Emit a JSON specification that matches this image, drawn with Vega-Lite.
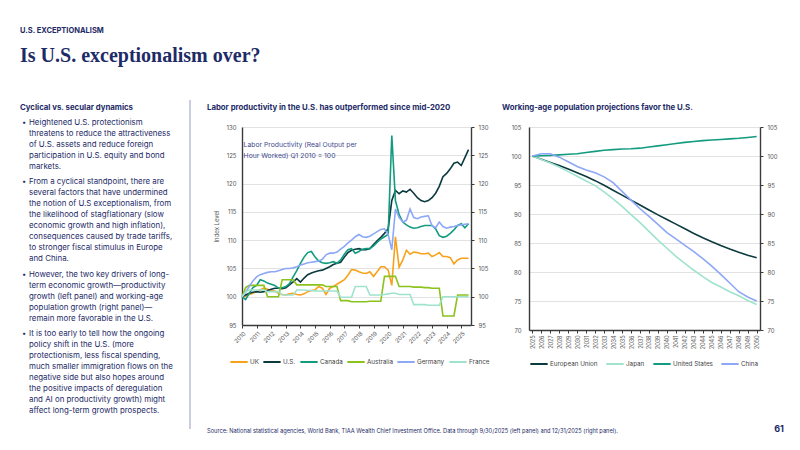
{
  "$schema": "https://vega.github.io/schema/vega-lite/v6.json",
  "background": "white",
  "padding": {"left": 20, "top": 26, "right": 8, "bottom": 6},
  "title": {
    "text": "U.S. EXCEPTIONALISM",
    "subtitle": "Is U.S. exceptionalism over?",
    "anchor": "start",
    "font": "Inter",
    "fontSize": 7.5,
    "fontWeight": "bold",
    "color": "#1e2b66",
    "subtitleFont": "Liberation Serif",
    "subtitleFontSize": 20,
    "subtitleFontWeight": "bold",
    "subtitleColor": "#1e2b66",
    "subtitlePadding": 12,
    "offset": 33
  },
  "datasets": {
    "productivity": [
      {"q": "2010-01-01", "UK": 100, "US": 100, "Canada": 100, "Australia": 100, "Germany": 100, "France": 100},
      {"q": "2010-04-01", "UK": 100.1, "US": 100.3, "Canada": 99.5, "Australia": 101.6, "Germany": 100.8, "France": 100.8},
      {"q": "2010-07-01", "UK": 100.4, "US": 100.6, "Canada": 100.6, "Australia": 102, "Germany": 101.8, "France": 101.2},
      {"q": "2010-10-01", "UK": 100.6, "US": 100.8, "Canada": 101.6, "Australia": 102, "Germany": 102.8, "France": 101.2},
      {"q": "2011-01-01", "UK": 100.9, "US": 100.9, "Canada": 102, "Australia": 102, "Germany": 103.5, "France": 101.2},
      {"q": "2011-04-01", "UK": 101.2, "US": 100.8, "Canada": 103, "Australia": 102, "Germany": 103.9, "France": 101.2},
      {"q": "2011-07-01", "UK": 101.5, "US": 100.9, "Canada": 102.8, "Australia": 102, "Germany": 104.1, "France": 101.2},
      {"q": "2011-10-01", "UK": 101.3, "US": 101.1, "Canada": 102.4, "Australia": 100, "Germany": 104.3, "France": 100.9},
      {"q": "2012-01-01", "UK": 101.1, "US": 101.3, "Canada": 102.2, "Australia": 100, "Germany": 104.4, "France": 100.9},
      {"q": "2012-04-01", "UK": 101, "US": 101.5, "Canada": 102, "Australia": 100, "Germany": 104.4, "France": 100.9},
      {"q": "2012-07-01", "UK": 100.6, "US": 101.5, "Canada": 101.5, "Australia": 100, "Germany": 104.6, "France": 100.9},
      {"q": "2012-10-01", "UK": 100.4, "US": 101.4, "Canada": 101.6, "Australia": 103, "Germany": 104.8, "France": 100.3},
      {"q": "2013-01-01", "UK": 100.3, "US": 101.6, "Canada": 101.8, "Australia": 103, "Germany": 105, "France": 100.3},
      {"q": "2013-04-01", "UK": 100.5, "US": 102.1, "Canada": 102.3, "Australia": 103, "Germany": 105, "France": 100.3},
      {"q": "2013-07-01", "UK": 100.6, "US": 102.6, "Canada": 103.5, "Australia": 103, "Germany": 105.1, "France": 100.3},
      {"q": "2013-10-01", "UK": 100.4, "US": 103.2, "Canada": 104.6, "Australia": 102.1, "Germany": 105.3, "France": 101.2},
      {"q": "2014-01-01", "UK": 100.3, "US": 102.6, "Canada": 105.9, "Australia": 102.1, "Germany": 105.6, "France": 101.2},
      {"q": "2014-04-01", "UK": 100.5, "US": 103.3, "Canada": 107, "Australia": 102.1, "Germany": 105.8, "France": 101.2},
      {"q": "2014-07-01", "UK": 100.9, "US": 103.9, "Canada": 107.8, "Australia": 102.1, "Germany": 106, "France": 101.1},
      {"q": "2014-10-01", "UK": 101.1, "US": 104.2, "Canada": 108, "Australia": 102.1, "Germany": 106.1, "France": 101.1},
      {"q": "2015-01-01", "UK": 101.2, "US": 104.4, "Canada": 107, "Australia": 102.1, "Germany": 106.2, "France": 101},
      {"q": "2015-04-01", "UK": 101.8, "US": 104.6, "Canada": 106.3, "Australia": 102.1, "Germany": 106.3, "France": 101},
      {"q": "2015-07-01", "UK": 101.5, "US": 104.7, "Canada": 106, "Australia": 102.1, "Germany": 106.6, "France": 101},
      {"q": "2015-10-01", "UK": 100.4, "US": 105, "Canada": 105.9, "Australia": 101.8, "Germany": 107.4, "France": 101},
      {"q": "2016-01-01", "UK": 101.5, "US": 105.3, "Canada": 106, "Australia": 101.8, "Germany": 107.7, "France": 101},
      {"q": "2016-04-01", "UK": 101.8, "US": 105.7, "Canada": 106.2, "Australia": 101.8, "Germany": 107.7, "France": 101},
      {"q": "2016-07-01", "UK": 102.2, "US": 105.9, "Canada": 105.9, "Australia": 101.8, "Germany": 107.9, "France": 101},
      {"q": "2016-10-01", "UK": 102.6, "US": 106.1, "Canada": 106.5, "Australia": 99.3, "Germany": 108.4, "France": 99.9},
      {"q": "2017-01-01", "UK": 103, "US": 107, "Canada": 107.5, "Australia": 99.3, "Germany": 108.9, "France": 99.9},
      {"q": "2017-04-01", "UK": 103.8, "US": 107.8, "Canada": 108.3, "Australia": 99.3, "Germany": 109.5, "France": 99.9},
      {"q": "2017-07-01", "UK": 104.8, "US": 108.2, "Canada": 108.5, "Australia": 99.1, "Germany": 110, "France": 99.9},
      {"q": "2017-10-01", "UK": 104.7, "US": 108.4, "Canada": 107.7, "Australia": 99.1, "Germany": 110.6, "France": 101.8},
      {"q": "2018-01-01", "UK": 104.4, "US": 108.5, "Canada": 108, "Australia": 99.1, "Germany": 111, "France": 101.8},
      {"q": "2018-04-01", "UK": 104.2, "US": 108.3, "Canada": 108.4, "Australia": 99.1, "Germany": 110.6, "France": 101.8},
      {"q": "2018-07-01", "UK": 104.1, "US": 108.3, "Canada": 108.5, "Australia": 99.1, "Germany": 110.5, "France": 101.8},
      {"q": "2018-10-01", "UK": 104.4, "US": 108.5, "Canada": 108.5, "Australia": 99.2, "Germany": 110.7, "France": 100.3},
      {"q": "2019-01-01", "UK": 103.6, "US": 109.2, "Canada": 109, "Australia": 99.2, "Germany": 111.1, "France": 100.3},
      {"q": "2019-04-01", "UK": 104.4, "US": 109.9, "Canada": 109.6, "Australia": 99.2, "Germany": 111.5, "France": 100.3},
      {"q": "2019-07-01", "UK": 105.3, "US": 110.5, "Canada": 110.2, "Australia": 99.2, "Germany": 111.9, "France": 100.3},
      {"q": "2019-10-01", "UK": 105.3, "US": 111.2, "Canada": 110.6, "Australia": 103.6, "Germany": 112, "France": 100.4},
      {"q": "2020-01-01", "UK": 104.7, "US": 112, "Canada": 111, "Australia": 103.6, "Germany": 111, "France": 100.5},
      {"q": "2020-04-01", "UK": 102, "US": 117, "Canada": 128.5, "Australia": 103.6, "Germany": 108.3, "France": 100.6},
      {"q": "2020-07-01", "UK": 110.6, "US": 118.8, "Canada": 117, "Australia": 103.6, "Germany": 115.5, "France": 100.6},
      {"q": "2020-10-01", "UK": 105.2, "US": 118.2, "Canada": 114.5, "Australia": 101.8, "Germany": 114, "France": 100.4},
      {"q": "2021-01-01", "UK": 106.5, "US": 118.7, "Canada": 113.2, "Australia": 101.8, "Germany": 113.2, "France": 100.4},
      {"q": "2021-04-01", "UK": 108.2, "US": 118.5, "Canada": 112.7, "Australia": 101.8, "Germany": 113.5, "France": 100.4},
      {"q": "2021-07-01", "UK": 107.5, "US": 119, "Canada": 112.3, "Australia": 101.8, "Germany": 115.5, "France": 100.4},
      {"q": "2021-10-01", "UK": 107.9, "US": 118.3, "Canada": 112.1, "Australia": 101.7, "Germany": 114, "France": 98.6},
      {"q": "2022-01-01", "UK": 107.8, "US": 117.5, "Canada": 112.2, "Australia": 101.7, "Germany": 113.8, "France": 98.6},
      {"q": "2022-04-01", "UK": 107.6, "US": 117, "Canada": 112.4, "Australia": 101.7, "Germany": 114.1, "France": 98.6},
      {"q": "2022-07-01", "UK": 107.6, "US": 116.8, "Canada": 112.6, "Australia": 101.6, "Germany": 114.2, "France": 98.6},
      {"q": "2022-10-01", "UK": 107.7, "US": 117, "Canada": 112.6, "Australia": 101.6, "Germany": 114.3, "France": 98.5},
      {"q": "2023-01-01", "UK": 107.1, "US": 117.5, "Canada": 112.6, "Australia": 101.5, "Germany": 112.5, "France": 98.5},
      {"q": "2023-04-01", "UK": 107.4, "US": 118.3, "Canada": 112, "Australia": 101.5, "Germany": 112.2, "France": 98.5},
      {"q": "2023-07-01", "UK": 107.8, "US": 119.5, "Canada": 110.8, "Australia": 101.5, "Germany": 113.2, "France": 98.5},
      {"q": "2023-10-01", "UK": 107.1, "US": 121.2, "Canada": 110.5, "Australia": 96.6, "Germany": 112.4, "France": 100},
      {"q": "2024-01-01", "UK": 107.1, "US": 121.8, "Canada": 110.7, "Australia": 96.6, "Germany": 112.1, "France": 100},
      {"q": "2024-04-01", "UK": 106.9, "US": 122.6, "Canada": 111.2, "Australia": 96.6, "Germany": 112.3, "France": 100},
      {"q": "2024-07-01", "UK": 105.8, "US": 123.6, "Canada": 111.8, "Australia": 96.6, "Germany": 112.4, "France": 100},
      {"q": "2024-10-01", "UK": 106.5, "US": 123.8, "Canada": 112.6, "Australia": 100.3, "Germany": 112.6, "France": 100},
      {"q": "2025-01-01", "UK": 106.8, "US": 123.2, "Canada": 112.9, "Australia": 100.3, "Germany": 112.7, "France": 100},
      {"q": "2025-04-01", "UK": 106.8, "US": 124.6, "Canada": 112.2, "Australia": 100.3, "Germany": 112.8, "France": 100},
      {"q": "2025-07-01", "UK": 106.8, "US": 126, "Canada": 112.9, "Australia": 100.3, "Germany": 112.9, "France": 100}
    ],
    "population": [
      {"year": 2025, "EU": 100, "Japan": 100, "US": 100, "China": 100},
      {"year": 2026, "EU": 99.45, "Japan": 99.4, "US": 100.05, "China": 100.4},
      {"year": 2027, "EU": 98.9, "Japan": 98.8, "US": 100.1, "China": 100.4},
      {"year": 2028, "EU": 98.35, "Japan": 98.1, "US": 100.2, "China": 99.8},
      {"year": 2029, "EU": 97.75, "Japan": 97.3, "US": 100.3, "China": 99},
      {"year": 2030, "EU": 97.1, "Japan": 96.5, "US": 100.4, "China": 98.2},
      {"year": 2031, "EU": 96.45, "Japan": 95.7, "US": 100.6, "China": 97.6},
      {"year": 2032, "EU": 95.75, "Japan": 94.9, "US": 100.8, "China": 97.1},
      {"year": 2033, "EU": 94.95, "Japan": 93.8, "US": 101, "China": 96.4},
      {"year": 2034, "EU": 94.1, "Japan": 92.6, "US": 101.1, "China": 95.4},
      {"year": 2035, "EU": 93.25, "Japan": 91.3, "US": 101.2, "China": 93.9},
      {"year": 2036, "EU": 92.4, "Japan": 89.9, "US": 101.25, "China": 92.4},
      {"year": 2037, "EU": 91.55, "Japan": 88.5, "US": 101.35, "China": 90.9},
      {"year": 2038, "EU": 90.7, "Japan": 87, "US": 101.55, "China": 89.6},
      {"year": 2039, "EU": 89.85, "Japan": 85.5, "US": 101.75, "China": 88.2},
      {"year": 2040, "EU": 89.05, "Japan": 84.1, "US": 101.95, "China": 86.8},
      {"year": 2041, "EU": 88.25, "Japan": 82.7, "US": 102.15, "China": 85.7},
      {"year": 2042, "EU": 87.45, "Japan": 81.5, "US": 102.35, "China": 84.6},
      {"year": 2043, "EU": 86.65, "Japan": 80.3, "US": 102.5, "China": 83.5},
      {"year": 2044, "EU": 85.9, "Japan": 79.2, "US": 102.65, "China": 82.3},
      {"year": 2045, "EU": 85.2, "Japan": 78.2, "US": 102.75, "China": 81},
      {"year": 2046, "EU": 84.55, "Japan": 77.4, "US": 102.85, "China": 79.6},
      {"year": 2047, "EU": 83.95, "Japan": 76.6, "US": 102.95, "China": 78.1},
      {"year": 2048, "EU": 83.4, "Japan": 75.9, "US": 103.05, "China": 76.6},
      {"year": 2049, "EU": 82.9, "Japan": 75.1, "US": 103.2, "China": 75.7},
      {"year": 2050, "EU": 82.45, "Japan": 74.4, "US": 103.35, "China": 75}
    ],
    "notes": [
      {"p": 0, "n": 0, "t": "Cyclical vs. secular dynamics"},
      {"p": 1, "n": 1, "first": true, "t": "Heightened U.S. protectionism"},
      {"p": 1, "n": 2, "t": "threatens to reduce the attractiveness"},
      {"p": 1, "n": 3, "t": "of U.S. assets and reduce foreign"},
      {"p": 1, "n": 4, "t": "participation in U.S. equity and bond"},
      {"p": 1, "n": 5, "t": "markets."},
      {"p": 2, "n": 6, "first": true, "t": "From a cyclical standpoint, there are"},
      {"p": 2, "n": 7, "t": "several factors that have undermined"},
      {"p": 2, "n": 8, "t": "the notion of U.S exceptionalism, from"},
      {"p": 2, "n": 9, "t": "the likelihood of stagflationary (slow"},
      {"p": 2, "n": 10, "t": "economic growth and high inflation),"},
      {"p": 2, "n": 11, "t": "consequences caused by trade tariffs,"},
      {"p": 2, "n": 12, "t": "to stronger fiscal stimulus in Europe"},
      {"p": 2, "n": 13, "t": "and China."},
      {"p": 3, "n": 14, "first": true, "t": "However, the two key drivers of long-"},
      {"p": 3, "n": 15, "t": "term economic growth—productivity"},
      {"p": 3, "n": 16, "t": "growth (left panel) and working-age"},
      {"p": 3, "n": 17, "t": "population growth (right panel)—"},
      {"p": 3, "n": 18, "t": "remain more favorable in the U.S."},
      {"p": 4, "n": 19, "first": true, "t": "It is too early to tell how the ongoing"},
      {"p": 4, "n": 20, "t": "policy shift in the U.S. (more"},
      {"p": 4, "n": 21, "t": "protectionism, less fiscal spending,"},
      {"p": 4, "n": 22, "t": "much smaller immigration flows on the"},
      {"p": 4, "n": 23, "t": "negative side but also hopes around"},
      {"p": 4, "n": 24, "t": "the positive impacts of deregulation"},
      {"p": 4, "n": 25, "t": "and AI on productivity growth) might"},
      {"p": 4, "n": 26, "t": "affect long-term growth prospects."}
    ]
  },
  "vconcat": [
    {
      "title": {"text": "61", "orient": "bottom", "anchor": "end", "fontSize": 9, "fontWeight": "bold", "offset": -9, "dx": 7},
      "spacing": 15,
      "hconcat": [
        {
          "width": 170,
          "height": 302,
          "layer": [
            {
              "data": {"values": [{}]},
              "mark": {"type": "rule", "color": "#b9bdd4", "strokeWidth": 1.5},
              "encoding": {
                "x": {"datum": 170, "type": "quantitative", "scale": {"domain": [0, 170], "nice": false, "zero": false}, "axis": null},
                "y": {"datum": 0, "type": "quantitative", "scale": {"domain": [0, 329], "range": [-27, 302], "nice": false, "zero": false}, "axis": null},
                "y2": {"datum": 329}
              }
            },
            {
              "data": {"name": "notes"},
              "transform": [{"filter": "datum.p == 0"}],
              "mark": {"type": "text", "align": "left", "baseline": "middle", "fontSize": 7.8, "fontWeight": "bold", "color": "#1e2b66", "dy": -10},
              "encoding": {
                "x": {"datum": 0, "type": "quantitative"},
                "y": {"field": "n", "type": "ordinal", "scale": {"domain": [0, 1, 2, 3, 4, 5, 6, 7, 8, 9, 10, 11, 12, 13, 14, 15, 16, 17, 18, 19, 20, 21, 22, 23, 24, 25, 26], "range": [-15, 282], "paddingInner": 0, "paddingOuter": 0}, "axis": null},
                "text": {"field": "t"}
              }
            },
            {
              "data": {"name": "notes"},
              "transform": [{"filter": "datum.first"}],
              "mark": {"type": "text", "align": "left", "baseline": "middle", "fontSize": 7.5, "color": "#1e2b66"},
              "encoding": {
                "x": {"datum": 2, "type": "quantitative"},
                "y": {"field": "n", "type": "ordinal", "scale": {"domain": [0, 1, 2, 3, 4, 5, 6, 7, 8, 9, 10, 11, 12, 13, 14, 15, 16, 17, 18, 19, 20, 21, 22, 23, 24, 25, 26], "range": [-15, 282], "paddingInner": 0, "paddingOuter": 0}, "axis": null},
                "yOffset": {"field": "p", "type": "quantitative", "scale": {"domain": [1, 4], "range": [0, 13]}},
                "text": {"value": "•"}
              }
            },
            {
              "data": {"name": "notes"},
              "transform": [{"filter": "datum.p > 0"}],
              "mark": {"type": "text", "align": "left", "baseline": "middle", "fontSize": 7.9, "color": "#1e2b66"},
              "encoding": {
                "x": {"datum": 9, "type": "quantitative"},
                "y": {"field": "n", "type": "ordinal", "scale": {"domain": [0, 1, 2, 3, 4, 5, 6, 7, 8, 9, 10, 11, 12, 13, 14, 15, 16, 17, 18, 19, 20, 21, 22, 23, 24, 25, 26], "range": [-15, 282], "paddingInner": 0, "paddingOuter": 0}, "axis": null},
                "yOffset": {"field": "p", "type": "quantitative", "scale": {"domain": [1, 4], "range": [0, 13]}},
                "text": {"field": "t"}
              }
            }
          ],
          "resolve": {"scale": {"y": "independent"}}
        },
        {
          "title": {
            "text": "Source: National statistical agencies, World Bank, TIAA Wealth Chief Investment Office. Data through 9/30/2025 (left panel) and 12/31/2025 (right panel).",
            "orient": "bottom", "anchor": "start", "fontSize": 5.7, "fontWeight": "normal", "offset": 60
          },
          "spacing": 11,
          "resolve": {"scale": {"color": "independent"}, "legend": {"color": "independent"}},
          "hconcat": [
            {
              "width": 229,
              "height": 198,
              "title": {"text": "Labor productivity in the U.S. has outperformed since mid-2020", "anchor": "start", "fontSize": 7.8, "offset": 12, "dx": -7},
              "layer": [
                {
                  "data": {"name": "productivity"},
                  "transform": [{"fold": ["UK", "US", "Canada", "Australia", "Germany", "France"], "as": ["country", "value"]}],
                  "mark": {"type": "line", "strokeWidth": 1.6},
                  "encoding": {
                    "x": {
                      "field": "q", "type": "temporal",
                      "scale": {"type": "utc", "domain": ["2010-01-01", "2025-09-01"]},
                      "axis": {"title": null, "format": "%Y", "tickCount": {"interval": "year", "step": 1}, "labelAngle": -45, "grid": false, "tickSize": 3, "labelPadding": 2, "labelFontSize": 5.8}
                    },
                    "y": {
                      "field": "value", "type": "quantitative",
                      "scale": {"domain": [95, 130], "nice": false, "zero": false},
                      "axis": {"title": "Index Level", "values": [95, 100, 105, 110, 115, 120, 125, 130], "tickSize": 0, "labelPadding": 6, "titlePadding": 6}
                    },
                    "color": {
                      "field": "country", "type": "nominal",
                      "scale": {"domain": ["UK", "US", "Canada", "Australia", "Germany", "France"], "range": ["#f7a21b", "#0b3a3f", "#139b80", "#8cc21e", "#8da8f6", "#9fe3cf"]},
                      "legend": {"title": null, "orient": "none", "direction": "horizontal", "legendX": -13, "legendY": 225, "columnPadding": 0, "labelExpr": "datum.label == 'US' ? 'U.S.' : datum.label"}
                    }
                  }
                },
                {
                  "data": {"values": [{}]},
                  "mark": {"type": "text", "align": "left", "baseline": "top", "fontSize": 6.8, "lineHeight": 11, "color": "#3f4a8f"},
                  "encoding": {
                    "x": {"datum": {"year": 2010, "month": 2, "date": 10, "utc": true}, "type": "temporal"},
                    "y": {
                      "datum": 127.3, "type": "quantitative",
                      "scale": {"domain": [95, 130], "nice": false, "zero": false},
                      "axis": {"orient": "right", "title": null, "grid": false, "values": [95, 100, 105, 110, 115, 120, 125, 130], "tickSize": 3, "labelPadding": 4}
                    },
                    "text": {"value": ["Labor Productivity (Real Output per", "Hour Worked) Q1 2010 = 100"]}
                  }
                }
              ],
              "resolve": {"scale": {"y": "independent"}}
            },
            {
              "width": 231,
              "height": 203,
              "title": {"text": "Working-age population projections favor the U.S.", "anchor": "start", "fontSize": 7.8, "offset": 12, "dx": -9},
              "layer": [
                {
                  "data": {"name": "population"},
                  "transform": [{"fold": ["EU", "Japan", "US", "China"], "as": ["region", "value"]}],
                  "mark": {"type": "line", "strokeWidth": 1.6},
                  "encoding": {
                    "x": {
                      "field": "year", "type": "ordinal",
                      "scale": {"type": "point", "padding": 0.37},
                      "axis": {"title": null, "labelAngle": -90, "grid": false, "tickSize": 3, "labelPadding": 2, "labelFontSize": 5.5}
                    },
                    "y": {
                      "field": "value", "type": "quantitative",
                      "scale": {"domain": [70, 105], "nice": false, "zero": false},
                      "axis": {"title": null, "values": [70, 75, 80, 85, 90, 95, 100, 105], "tickSize": 0, "labelPadding": 8}
                    },
                    "color": {
                      "field": "region", "type": "nominal",
                      "scale": {"domain": ["EU", "Japan", "US", "China"], "range": ["#0b3a3f", "#9fe3cf", "#139b80", "#8da8f6"]},
                      "legend": {"title": null, "orient": "none", "direction": "horizontal", "legendX": 0, "legendY": 227, "columnPadding": 4, "labelExpr": "datum.label == 'EU' ? 'European Union' : datum.label == 'US' ? 'United States' : datum.label"}
                    }
                  }
                },
                {
                  "data": {"values": [{}]},
                  "mark": {"type": "rule", "strokeOpacity": 0},
                  "encoding": {
                    "y": {
                      "datum": 100, "type": "quantitative",
                      "scale": {"domain": [70, 105], "nice": false, "zero": false},
                      "axis": {"orient": "right", "title": null, "grid": false, "values": [70, 75, 80, 85, 90, 95, 100, 105], "tickSize": 3, "labelPadding": 4}
                    }
                  }
                }
              ],
              "resolve": {"scale": {"y": "independent"}}
            }
          ]
        }
      ]
    }
  ],
  "config": {
    "font": "Inter",
    "view": {"stroke": null},
    "title": {"font": "Inter", "fontWeight": "bold", "color": "#1e2b66"},
    "axis": {
      "labelFont": "Inter",
      "labelFontSize": 6,
      "labelColor": "#555555",
      "domainColor": "#3a3a3a",
      "domainWidth": 1.4,
      "tickColor": "#3a3a3a",
      "gridColor": "#e2e2e2",
      "titleFont": "Inter",
      "titleFontSize": 6,
      "titleFontWeight": "normal",
      "titleColor": "#555555"
    },
    "legend": {
      "symbolType": "stroke",
      "symbolStrokeWidth": 2,
      "symbolSize": 300,
      "labelFont": "Inter",
      "labelFontSize": 6.3,
      "labelColor": "#444444",
      "labelOffset": 1
    }
  }
}
